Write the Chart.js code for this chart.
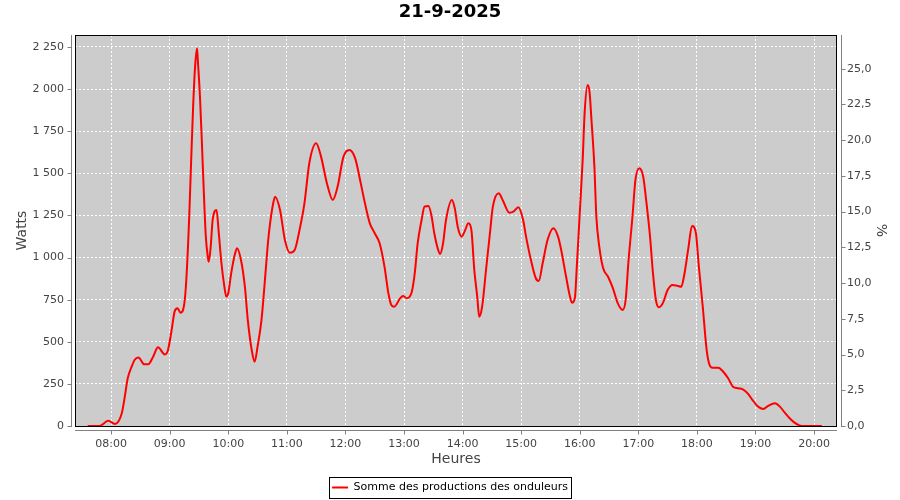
<!DOCTYPE html>
<html>
<head>
<meta charset="utf-8">
<title>21-9-2025</title>
<script src="https://cdn.jsdelivr.net/npm/chart.js@4/dist/chart.umd.min.js"></script>
<style>
  html, body { margin: 0; padding: 0; background: #fff; }
  canvas { display: block; }
</style>
</head>
<body>
<canvas id="myChart" width="900" height="500"></canvas>
<script>
// relevés
const heures = [
  '07:36','07:48','07:57','08:04','08:11','08:14','08:17','08:21','08:24','08:28',
  '08:34','08:38','08:43','08:48','08:55','08:58','09:02','09:05','09:08','09:11',
  '09:15','09:17','09:20','09:22','09:24','09:26','09:28','09:29','09:31','09:33',
  '09:35','09:37','09:39','09:40','09:42','09:44','09:48','09:50','09:53','09:56',
  '09:58','10:00','10:03','10:07','10:09','10:13','10:17','10:20','10:24','10:27',
  '10:30','10:34','10:37','10:40','10:42','10:46','10:48','10:53','10:58','11:03',
  '11:08','11:13','11:18','11:23','11:30','11:35','11:41','11:47','11:52','11:58',
  '12:04','12:10','12:15','12:20','12:25','12:30','12:35','12:40','12:44','12:47',
  '12:50','12:56','12:59','13:03','13:08','13:11','13:14','13:18','13:21','13:25',
  '13:28','13:31','13:35','13:37','13:40','13:43','13:49','13:52','13:55','13:59',
  '14:02','14:06','14:09','14:12','14:15','14:17','14:20','14:24','14:28','14:31',
  '14:37','14:41','14:48','14:52','14:57','15:02','15:05','15:10','15:15','15:18',
  '15:22','15:27','15:33','15:38','15:41','15:46','15:50','15:52','15:55','15:57',
  '16:00','16:03','16:05','16:08','16:10','16:12','16:15','16:17','16:20','16:24',
  '16:29','16:34','16:39','16:44','16:47','16:50','16:54','16:57','17:01','17:05',
  '17:08','17:12','17:15','17:18','17:21','17:25','17:30','17:35','17:40','17:44',
  '17:47','17:51','17:55','17:59','18:02','18:06','18:10','18:13','18:16','18:22',
  '18:27','18:32','18:37','18:42','18:47','18:52','18:57','19:02','19:08','19:13',
  '19:20','19:25','19:30','19:35','19:40','19:45','19:50','20:08'
];
const watts = [
  0, 0, 31, 12, 77, 174, 283, 352, 392, 406,
  366, 366, 411, 467, 425, 445, 570, 679, 699, 673,
  728, 867, 1243, 1579, 1896, 2133, 2242, 2153, 1955, 1678,
  1381, 1124, 1005, 975, 1065, 1223, 1282, 1164, 966, 827,
  768, 788, 907, 1025, 1055, 985, 827, 629, 451, 382,
  471, 629, 827, 1045, 1164, 1322, 1361, 1282, 1104, 1029,
  1045, 1164, 1322, 1560, 1678, 1599, 1441, 1342, 1421, 1599,
  1639, 1589, 1460, 1322, 1203, 1144, 1085, 946, 788, 718,
  708, 758, 772, 758, 797, 907, 1085, 1223, 1302, 1306,
  1253, 1144, 1045, 1021, 1085, 1223, 1342, 1292, 1183, 1124,
  1154, 1203, 1164, 926, 768, 649, 708, 926, 1144, 1302,
  1381, 1342, 1266, 1272, 1298, 1223, 1124, 985, 877, 861,
  966, 1104, 1174, 1120, 1045, 886, 768, 732, 760, 946,
  1263, 1579, 1857, 2024, 1985, 1817, 1539, 1243, 1065, 936,
  886, 817, 728, 689, 748, 985, 1243, 1460, 1530, 1480,
  1342, 1124, 907, 748, 705, 728, 807, 837, 832, 827,
  896, 1045, 1187, 1144, 946, 708, 451, 362, 346, 346,
  322, 283, 233, 224, 218, 194, 154, 119, 101, 119,
  135, 115, 79, 46, 20, 4, 0, 0
];
const heureTicks = ['08:00','09:00','10:00','11:00','12:00','13:00','14:00','15:00','16:00','17:00','18:00','19:00','20:00'];
const wattTicks = [0, 250, 500, 750, 1000, 1250, 1500, 1750, 2000, 2250];
const pctTicks = [0, 2.5, 5, 7.5, 10, 12.5, 15, 17.5, 20, 22.5, 25];

const toMin = s => { const [h, m] = s.split(':'); return h * 60 + +m; };
const pad = n => String(n).padStart(2, '0');
const fmtHeure = v => pad(Math.floor(v / 60)) + ':' + pad(Math.round(v % 60));
const fmtWatt = v => String(v).replace(/\B(?=(\d{3})+(?!\d))/g, ' ');
const fmtPct = v => v.toFixed(1).replace('.', ',');

const FONT = 'DejaVu Sans';
const GRIS = '#444444';

// fond gris, axes décalés façon JFreeChart, cadre de la légende
const habillage = {
  id: 'habillage',
  afterLayout(chart) {
    // la légende un peu plus bas, comme sur l'original
    chart.legend.top += 3;
    chart.legend.bottom += 3;
  },
  beforeDraw(chart) {
    const { ctx, chartArea: a } = chart;
    ctx.save();
    ctx.fillStyle = '#ffffff';
    ctx.fillRect(0, 0, chart.width, chart.height);
    ctx.fillStyle = '#cccccc';
    ctx.fillRect(a.left, a.top, a.right - a.left, a.bottom - a.top);
    ctx.restore();
  },
  afterDraw(chart) {
    const { ctx, chartArea: a, scales } = chart;
    ctx.save();
    ctx.lineWidth = 1;
    ctx.strokeStyle = '#000000';
    ctx.strokeRect(a.left + 0.5, a.top + 0.5, a.right - a.left - 1, a.bottom - a.top);

    ctx.strokeStyle = '#808080';
    ctx.beginPath();
    const lx = a.left - 3.5, rx = a.right + 4.5, by = a.bottom + 4.5;
    ctx.moveTo(lx, a.top); ctx.lineTo(lx, a.bottom + 1);
    ctx.moveTo(rx, a.top); ctx.lineTo(rx, a.bottom + 1);
    ctx.moveTo(a.left, by); ctx.lineTo(a.right, by);
    scales.y.ticks.forEach(t => {
      const y = Math.round(scales.y.getPixelForValue(t.value)) + 0.5;
      ctx.moveTo(lx - 4, y); ctx.lineTo(lx, y);
    });
    scales.y1.ticks.forEach(t => {
      const y = Math.round(scales.y1.getPixelForValue(t.value)) + 0.5;
      ctx.moveTo(rx, y); ctx.lineTo(rx + 4, y);
    });
    scales.x.ticks.forEach(t => {
      const x = Math.round(scales.x.getPixelForValue(t.value)) + 0.5;
      ctx.moveTo(x, by); ctx.lineTo(x, by + 4);
    });
    ctx.stroke();

    const hb = chart.legend.legendHitBoxes[0];
    if (hb) {
      const cy = chart.legend.top + 5 + 5.5;
      ctx.strokeStyle = '#000000';
      ctx.strokeRect(Math.round(hb.left) - 2.5, Math.round(cy) - 10.5, Math.round(hb.width) + 6, 21);
    }
    ctx.restore();
  }
};

const ctx = document.getElementById('myChart').getContext('2d');
new Chart(ctx, {
  type: 'line',
  data: {
    datasets: [{
      label: 'Somme des productions des onduleurs',
      data: heures.map((h, i) => ({ x: toMin(h), y: watts[i] })),
      borderColor: '#ff0000',
      backgroundColor: '#ff0000',
      borderWidth: 2,
      pointRadius: 0,
      cubicInterpolationMode: 'monotone',
      fill: false,
      yAxisID: 'y'
    }]
  },
  options: {
    responsive: false,
    animation: false,
    devicePixelRatio: 1,
    layout: { padding: 0 },
    plugins: {
      title: {
        display: true,
        text: '21-9-2025',
        color: '#000000',
        font: { family: FONT, size: 18, weight: 'bold' },
        padding: { top: 2, bottom: 11.4 }
      },
      legend: {
        position: 'bottom',
        labels: {
          color: '#000000',
          font: { family: FONT, size: 11 },
          boxWidth: 16,
          boxHeight: 2,
          padding: 5,
          generateLabels(chart) {
            const items = Chart.defaults.plugins.legend.labels.generateLabels(chart);
            items.forEach(it => { it.lineWidth = 0; it.fillStyle = '#ff0000'; });
            return items;
          }
        }
      },
      tooltip: { enabled: false }
    },
    scales: {
      x: {
        type: 'linear',
        min: 443,
        max: 1223.5,
        afterBuildTicks: s => { s.ticks = heureTicks.map(h => ({ value: toMin(h) })); },
        afterFit: s => { s.height = 48; },
        ticks: {
          callback: v => fmtHeure(v),
          color: GRIS,
          font: { family: FONT, size: 11 },
          padding: 11.5,
          maxRotation: 0,
          autoSkip: false
        },
        grid: { color: '#ffffff', lineWidth: 1, drawTicks: false },
        border: { display: false, dash: [2, 2] },
        title: {
          display: true,
          text: 'Heures',
          color: GRIS,
          font: { family: FONT, size: 14 },
          padding: { top: 0, bottom: 5.8 }
        }
      },
      y: {
        position: 'left',
        min: 0,
        max: 2321,
        afterBuildTicks: s => { s.ticks = wattTicks.map(v => ({ value: v })); },
        afterFit: s => { s.width = 75; },
        ticks: {
          callback: v => fmtWatt(v),
          color: GRIS,
          font: { family: FONT, size: 11 },
          padding: 11
        },
        grid: { color: '#ffffff', lineWidth: 1, drawTicks: false },
        border: { display: false, dash: [2, 2] },
        title: {
          display: true,
          text: 'Watts',
          color: GRIS,
          font: { family: FONT, size: 14 },
          padding: { top: 13.6, bottom: 0 }
        }
      },
      y1: {
        position: 'right',
        min: 0,
        max: 27.36,
        afterBuildTicks: s => { s.ticks = pctTicks.map(v => ({ value: v })); },
        afterFit: s => { s.width = 63; },
        ticks: {
          callback: v => fmtPct(v),
          color: GRIS,
          font: { family: FONT, size: 11 },
          padding: 10
        },
        grid: { display: false, drawTicks: false },
        border: { display: false },
        title: {
          display: true,
          text: '%',
          color: GRIS,
          font: { family: FONT, size: 14 },
          padding: { top: 10.6, bottom: 0 }
        }
      }
    }
  },
  plugins: [habillage]
});
</script>
</body>
</html>
